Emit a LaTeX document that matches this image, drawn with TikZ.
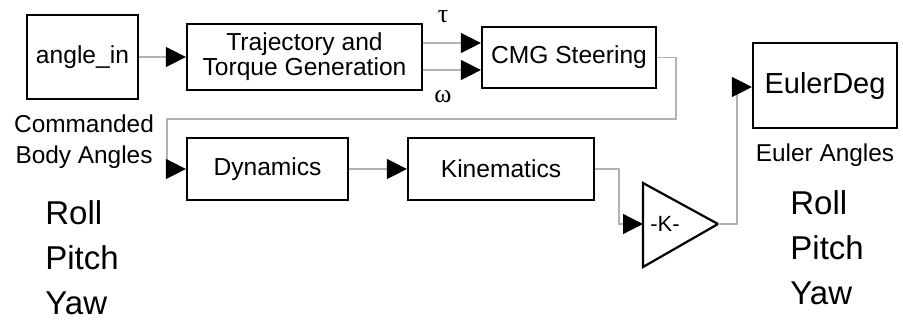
\documentclass[tikz,border=0pt]{standalone}
\usepackage{fontspec}
\setmainfont{Liberation Sans}
\newfontfamily\greekfont{Liberation Serif}
\usetikzlibrary{arrows.meta}
\begin{document}
\begin{tikzpicture}[x=0.5pt, y=-0.5pt,
        block/.style={draw, line width=1.1pt, inner sep=0pt, align=center, font=\fontsize{12.3}{12.5}\selectfont},
        signal/.style={draw=black!30, line width=0.6pt, -{Triangle[length=10pt, width=10pt, color=black]}},
        caption/.style={inner sep=0pt, font=\fontsize{12.2}{15.5}\selectfont}]
    \useasboundingbox (0,0) rectangle (903,322);

    % blocks
    \node[block, minimum width=55.5pt, minimum height=42pt] (anglein) at (82.5,57) {angle\_in};
    \node[block, minimum width=117.5pt, minimum height=33pt] (traj) at (304.5,57) {Trajectory and\\Torque Generation};
    \node[block, minimum width=87pt, minimum height=30.5pt] (cmg) at (569,57.5) {CMG Steering};
    \node[block, minimum width=80.5pt, minimum height=31pt] (dyn) at (267.5,169) {Dynamics};
    \node[block, minimum width=93pt, minimum height=31pt] (kin) at (501,169) {Kinematics};
    \node[block, minimum width=72pt, minimum height=42.5pt, font=\fontsize{14.5}{17}\selectfont] (euler) at (825,85.5) {EulerDeg};

    % gain
    \draw[line width=1.1pt] (643,183) -- (718,224) -- (643,267) -- cycle;
    \node[inner sep=0pt, font=\fontsize{11}{12}\selectfont] (gain) at (665,224) {-K-};
    \coordinate (gainin) at (643,224);
    \coordinate (gainout) at (718,224);

    % signals
    \draw[signal] (anglein) -- (traj);
    \draw[signal] (traj.east |- 0,43) -- (cmg.west |- 0,43);
    \draw[signal] (traj.east |- 0,70) -- (cmg.west |- 0,70);
    \draw[signal] (cmg.east) -| (676,119) -- (167,119) |- (dyn.west);
    \draw[signal] (dyn) -- (kin);
    \draw[signal] (kin.east) -| (619,224) -- (gainin);
    \draw[signal] (gainout) -| (737,87) -- (euler.west |- 0,87);

    % labels
    \node[caption, font=\fontsize{13}{15}\greekfont] (tau) at (443,17) {τ};
    \node[caption, font=\fontsize{13}{15}\greekfont] (omega) at (443,97) {ω};
    \node[caption, align=center] (cmdlabel) at (84,142) {Commanded\\Body Angles};
    \node[caption] (eulerlabel) at (825,155) {Euler Angles};
    \node[caption, anchor=west, align=left, font=\fontsize{16.5}{22.5}\selectfont] (leftangles) at (45,258) {Roll\\Pitch\\Yaw};
    \node[caption, anchor=west, align=left, font=\fontsize{16.5}{22.5}\selectfont] (rightangles) at (790,248) {Roll\\Pitch\\Yaw};
\end{tikzpicture}
\end{document}
